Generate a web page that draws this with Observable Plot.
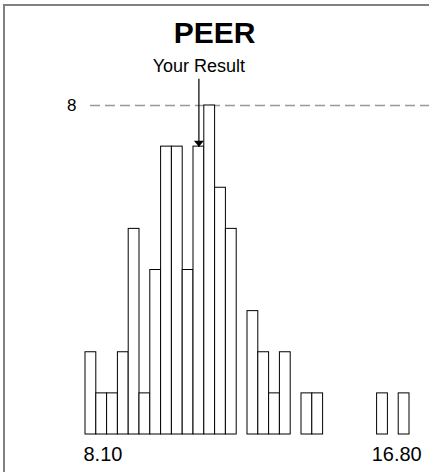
<!DOCTYPE html>
<html>
<head>
<meta charset="utf-8">
<script src="https://cdn.jsdelivr.net/npm/d3@7"></script>
<script src="https://cdn.jsdelivr.net/npm/@observablehq/plot@0.6"></script>
<style>
  html, body { margin: 0; padding: 0; background: #fff; }
  #wrap { position: relative; width: 429px; height: 472px; overflow: hidden; font-family: "Liberation Sans", Arial, Helvetica, sans-serif; }
  #title { height: 48px; box-sizing: border-box; padding-top: 17.5px; font-size: 30px; line-height: 30px; font-weight: bold; text-align: center; color: #000; }
  .edge { position: absolute; background: #808080; pointer-events: none; }
  #edgeLeft { left: 3px; top: 4px; width: 2px; height: 500px; }
  #edgeTop { left: 3px; top: 4px; width: 500px; height: 2px; }
  svg { display: block; }
</style>
</head>
<body>
<div id="wrap">
  <div id="title">PEER</div>
  <div id="chart"></div>
  <div class="edge" id="edgeLeft"></div>
  <div class="edge" id="edgeTop"></div>
</div>
<script>
// Histogram data
const binStart = [8.1, 8.4, 8.7, 9.0, 9.3, 9.6, 9.9, 10.2, 10.5, 10.8,
                  11.1, 11.4, 11.7, 12.0, 12.3, 12.6, 12.9, 13.2, 13.5, 13.8,
                  14.1, 14.4, 14.7, 15.0, 15.3, 15.6, 15.9, 16.2, 16.5, 16.8];
const binWidth = 0.3;
const counts = [2, 1, 1, 2, 5, 1, 4, 7, 7, 4,
                7, 8, 6, 5, 0, 3, 2, 1, 2, 0,
                1, 1, 0, 0, 0, 0, 0, 1, 0, 1];
const refLine = [8];
const tickValues = [8.1, 16.8];
const tickLabels = ["8.10", "16.80"];
const resultValue = 11.25;
const resultCount = 7;
const resultLabel = "Your Result";
const arrowTop = 8.65;

const bins = binStart.map((s, i) => ({x1: s, x2: s + binWidth, count: counts[i]}))
  .filter(d => d.count > 0);

const font = "Liberation Sans, Arial, Helvetica, sans-serif";

const plot = Plot.plot({
  width: 429,
  height: 424,
  marginLeft: 85,
  marginRight: 20,
  marginTop: 57,
  marginBottom: 38,
  style: {fontFamily: font, background: "transparent", overflow: "visible"},
  x: {domain: [binStart[0], binStart[binStart.length - 1] + binWidth], axis: null},
  y: {domain: [0, refLine[0]], axis: null},
  marks: [
    Plot.ruleY(refLine, {y: d => d, stroke: "#999", strokeWidth: 1.5, strokeDasharray: "10,5", insetLeft: 5, insetRight: -20}),
    Plot.text(refLine, {y: d => d, frameAnchor: "left", dx: -9, textAnchor: "end", text: d => String(d), fontSize: 17, fill: "#000"}),
    Plot.rectY(bins, {x1: "x1", x2: "x2", y: "count", fill: "white", stroke: "black", strokeWidth: 1}),
    Plot.link([resultValue], {x1: d => d, x2: d => d, y1: arrowTop, y2: resultCount, stroke: "black", strokeWidth: 1.2}),
    Plot.dot([resultValue], {x: d => d, y: resultCount, fill: "black", stroke: null,
      symbol: {draw(ctx) { ctx.moveTo(-5, -6); ctx.lineTo(5, -6); ctx.lineTo(0, 0); ctx.closePath(); }}}),
    Plot.text([resultLabel], {x: resultValue, y: refLine[0], dy: -39, text: d => d, fontSize: 18, fill: "#000", textAnchor: "middle"}),
    Plot.text([tickLabels[0]], {x: tickValues[0], y: 0, dy: 20, dx: -2, text: d => d, textAnchor: "start", fontSize: 20, fill: "#000"}),
    Plot.text([tickLabels[1]], {x: tickValues[1], y: 0, dy: 20, dx: -2, text: d => d, textAnchor: "middle", fontSize: 20, fill: "#000"})
  ]
});
document.getElementById("chart").appendChild(plot);
</script>
</body>
</html>
